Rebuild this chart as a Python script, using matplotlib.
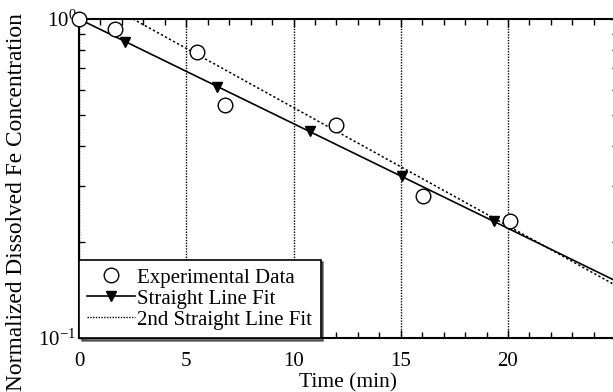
import numpy as np
import matplotlib
matplotlib.use("Agg")
import matplotlib.pyplot as plt
from matplotlib.ticker import NullFormatter

# -------------------------------
# Data
# -------------------------------

exp_t = [0.0, 1.7, 5.5, 6.8, 12.0, 16.05, 20.1]
exp_c = [1.0, 0.93, 0.788, 0.538, 0.465, 0.279, 0.233]

# straight line fit (end points) and its marker positions
fit_t = [0.0, 25.2]
fit_c = [1.0, 0.149]
fit_mark_t = [2.15, 6.45, 10.75, 15.05, 19.35]
fit_mark_c = [0.850, 0.614, 0.444, 0.321, 0.232]

# 2nd straight line fit (end points, clipped at the top)
fit2_t = [0.0, 25.2]
fit2_c = [1.24, 0.144]

xticks = [0, 5, 10, 15, 20]

# -------------------------------
# Style
# -------------------------------

plt.rcParams["font.family"] = ["Liberation Serif", "DejaVu Serif"]
plt.rcParams["mathtext.fontset"] = "custom"
plt.rcParams["mathtext.rm"] = "Liberation Serif"
plt.rcParams["mathtext.it"] = "Liberation Serif:italic"
plt.rcParams["mathtext.bf"] = "Liberation Serif:bold"

W, H = 613, 392
fig = plt.figure(figsize=(W / 100, H / 100), dpi=100)

left, right, top, bottom = 79, 618, 19, 338
ax = fig.add_axes([left / W, 1 - bottom / H, (right - left) / W, (bottom - top) / H])

# -------------------------------
# Plot
# -------------------------------

ax.plot(fit2_t, fit2_c, color="black", lw=1.1, ls=(0, (1.5, 1.5)),
        zorder=2)
ax.plot(fit_t, fit_c, color="black", lw=1.2, zorder=3)
ax.plot(fit_mark_t, fit_mark_c, ls="none", marker="v", ms=7,
        color="black", zorder=4)
ax.plot(exp_t, exp_c, ls="none", marker="o", ms=10.5, mfc="white",
        mec="black", mew=1.0, clip_on=False, zorder=5)

ax.set_yscale("log")
ax.set_ylim(0.1, 1.0)
ax.set_xlim(0, (right - left) / 21.45)

ax.set_xticks(xticks)
ax.set_xticks(np.arange(0, 26, 1), minor=True)
ax.set_yticks([0.1, 1.0])
ax.set_yticklabels([r"$10^{-1}$", r"$10^{0}$"])
ax.yaxis.set_minor_formatter(NullFormatter())

ax.tick_params(axis="both", which="both", direction="in", top=True,
               right=True, labelsize=15, colors="black")
ax.tick_params(which="major", length=6, width=1)
ax.tick_params(which="minor", length=4, width=1)
ax.tick_params(axis="x", pad=10)
ax.tick_params(axis="y", pad=2)

for s in ax.spines.values():
    s.set_linewidth(1.5)

ax.grid(axis="x", which="major", color="black", ls=(0, (1, 1)), lw=1.0)

ax.set_xlabel("Time (min)", fontsize=15.5)
ax.xaxis.set_label_coords((348 - left) / (right - left),
                          (bottom - 373) / (bottom - top))
ax.set_ylabel("Normalized Dissolved Fe Concentration", fontsize=16.8)
ax.yaxis.set_label_coords((27 - left) / (right - left),
                          (bottom - 202) / (bottom - top))

# legend handles
h_exp, = ax.plot([], [], ls="none", marker="o", ms=10.5, mfc="white",
                 mec="black", mew=1.0)
h_fit, = ax.plot([], [], color="black", lw=1.2, marker="v", ms=7,
                 markevery=[1])
h_fit2, = ax.plot([], [], color="black", lw=1.0, ls=(0, (1, 1)))

leg = ax.legend([h_exp, h_fit, h_fit2],
                ["Experimental Data", "Straight Line Fit",
                 "2nd Straight Line Fit"],
                loc="lower left", borderaxespad=0, fontsize=15.0,
                numpoints=1, handlelength=2.3, handletextpad=0.1,
                labelspacing=0.07, borderpad=0.4, fancybox=False,
                shadow={"color": "black"}, framealpha=1)
leg.get_frame().set_edgecolor("black")
leg.get_frame().set_linewidth(1.2)

fig.savefig("out.png", dpi=100)
